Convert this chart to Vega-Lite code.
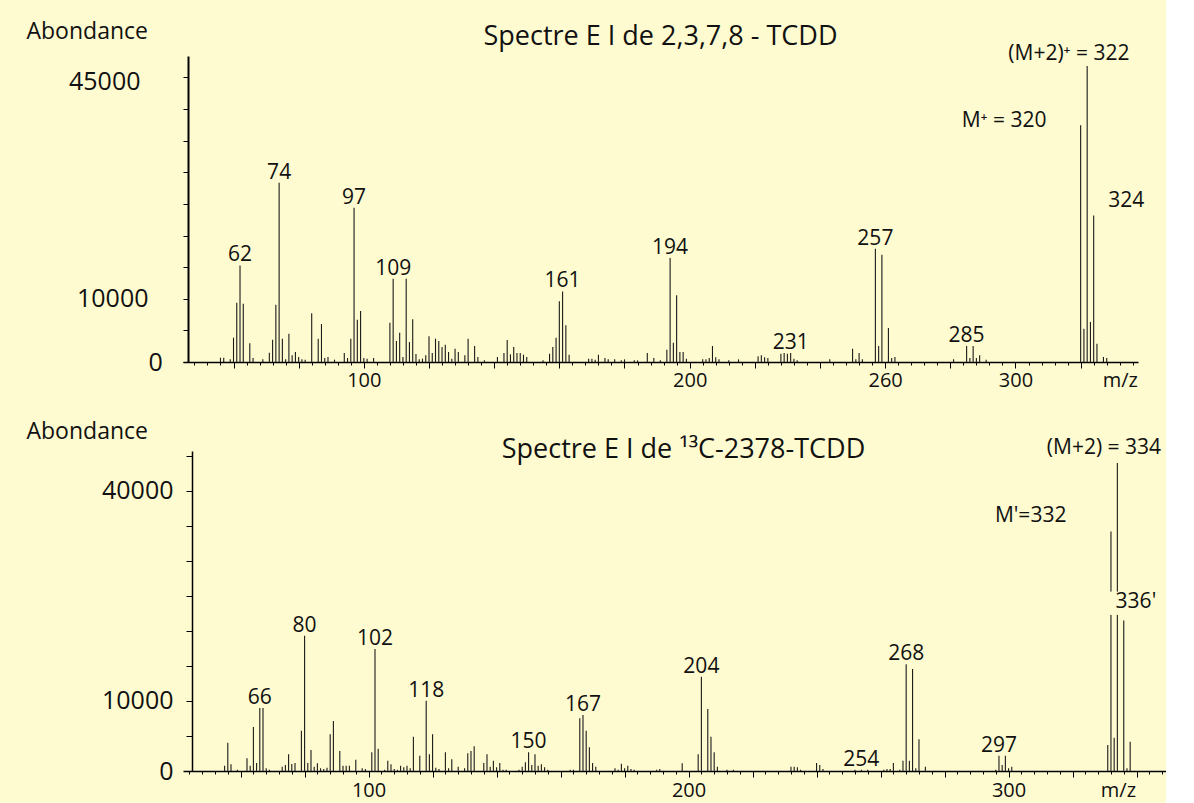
{
  "$schema": "https://vega.github.io/schema/vega-lite/v6.json",
  "background": "#FFFBD0",
  "padding": {"left": 26, "top": 20, "right": 0, "bottom": 6},
  "spacing": 30,
  "config": {
    "font": "Open Sans",
    "view": {"stroke": null},
    "axis": {"domainColor": "#000", "tickColor": "#000", "labelColor": "#111", "titleColor": "#111", "labelFont": "Open Sans", "titleFont": "Open Sans", "grid": false},
    "title": {"font": "Open Sans", "color": "#111"},
    "text": {"font": "Open Sans", "color": "#111"}
  },
  "datasets": {
    "top": [
      {"mz":56,"ab":685},{"mz":57,"ab":685},{"mz":59,"ab":420},{"mz":60,"ab":3850},{"mz":61,"ab":9380},{"mz":62,"ab":15280,"label":"62"},{"mz":63,"ab":9220},{"mz":65,"ab":2950},{"mz":66,"ab":630},{"mz":69,"ab":420},
      {"mz":71,"ab":1475},{"mz":72,"ab":3530},{"mz":73,"ab":9060},{"mz":74,"ab":28350,"label":"74"},{"mz":75,"ab":3690},{"mz":76,"ab":420},{"mz":77,"ab":4480},{"mz":78,"ab":1050},{"mz":79,"ab":1580},{"mz":80,"ab":790},
      {"mz":81,"ab":420},{"mz":82,"ab":370},{"mz":84,"ab":7700},{"mz":86,"ab":3690},{"mz":87,"ab":6000},{"mz":88,"ab":630},{"mz":89,"ab":790},{"mz":91,"ab":370},{"mz":94,"ab":1420},{"mz":95,"ab":630},
      {"mz":96,"ab":3690},{"mz":97,"ab":24400,"label":"97"},{"mz":98,"ab":6690},{"mz":99,"ab":8060},{"mz":100,"ab":630},{"mz":101,"ab":530},{"mz":103,"ab":630},{"mz":108,"ab":6220},{"mz":109,"ab":13175,"label":"109"},{"mz":110,"ab":3320},
      {"mz":111,"ab":4640},{"mz":112,"ab":790},{"mz":113,"ab":13175},{"mz":114,"ab":3160},{"mz":115,"ab":6750},{"mz":116,"ab":1260},{"mz":117,"ab":420},{"mz":118,"ab":530},{"mz":119,"ab":1050},{"mz":120,"ab":4060},
      {"mz":121,"ab":1420},{"mz":122,"ab":3690},{"mz":123,"ab":3320},{"mz":124,"ab":2370},{"mz":125,"ab":2740},{"mz":126,"ab":1580},{"mz":127,"ab":530},{"mz":128,"ab":2110},{"mz":129,"ab":1580},{"mz":131,"ab":1050},
      {"mz":132,"ab":3690},{"mz":134,"ab":2530},{"mz":135,"ab":790},{"mz":137,"ab":260},{"mz":141,"ab":790},{"mz":143,"ab":1420},{"mz":144,"ab":3480},{"mz":145,"ab":1210},{"mz":146,"ab":2370},{"mz":147,"ab":1420},
      {"mz":148,"ab":1420},{"mz":149,"ab":1160},{"mz":150,"ab":790},{"mz":155,"ab":260},{"mz":157,"ab":1320},{"mz":158,"ab":2370},{"mz":159,"ab":3850},{"mz":160,"ab":9590},{"mz":161,"ab":11170,"label":"161"},{"mz":162,"ab":5800},
      {"mz":163,"ab":1160},{"mz":169,"ab":530},{"mz":170,"ab":530},{"mz":171,"ab":370},{"mz":172,"ab":1160},{"mz":174,"ab":630},{"mz":175,"ab":420},{"mz":177,"ab":420},{"mz":179,"ab":260},{"mz":180,"ab":420},
      {"mz":183,"ab":260},{"mz":184,"ab":260},{"mz":187,"ab":1420},{"mz":189,"ab":630},{"mz":191,"ab":260},{"mz":193,"ab":1950},{"mz":194,"ab":16440,"label":"194"},{"mz":195,"ab":3060},{"mz":196,"ab":10540},{"mz":197,"ab":1580},
      {"mz":198,"ab":1580},{"mz":199,"ab":530},{"mz":204,"ab":420},{"mz":205,"ab":420},{"mz":206,"ab":630},{"mz":207,"ab":2530},{"mz":208,"ab":740},{"mz":209,"ab":420},{"mz":212,"ab":260},{"mz":215,"ab":420},
      {"mz":221,"ab":900},{"mz":222,"ab":1050},{"mz":223,"ab":740},{"mz":224,"ab":630},{"mz":228,"ab":1320},{"mz":229,"ab":1420},{"mz":230,"ab":1320},{"mz":231,"ab":1420,"label":"231"},{"mz":232,"ab":530},{"mz":233,"ab":260},
      {"mz":243,"ab":420},{"mz":250,"ab":2110},{"mz":251,"ab":420},{"mz":252,"ab":1420},{"mz":253,"ab":420},{"mz":257,"ab":17920,"label":"257"},{"mz":258,"ab":2530},{"mz":259,"ab":16970},{"mz":261,"ab":5380},{"mz":262,"ab":630},
      {"mz":263,"ab":790},{"mz":281,"ab":420},{"mz":285,"ab":2530,"label":"285"},{"mz":286,"ab":630},{"mz":287,"ab":2530},{"mz":288,"ab":630},{"mz":289,"ab":1050},{"mz":291,"ab":370},
      {"mz":320,"ab":37440},{"mz":321,"ab":5270},{"mz":322,"ab":46800},{"mz":323,"ab":6320},{"mz":324,"ab":23190},{"mz":325,"ab":2900},{"mz":327,"ab":790},{"mz":328,"ab":630}
    ],
    "bot": [
      {"mz":55,"ab":760},{"mz":56,"ab":4050},{"mz":57,"ab":950},{"mz":59,"ab":190},{"mz":62,"ab":1810},{"mz":63,"ab":760},{"mz":64,"ab":6280},{"mz":65,"ab":1140},{"mz":66,"ab":9000,"label":"66"},{"mz":67,"ab":9000},
      {"mz":68,"ab":380},{"mz":69,"ab":190},{"mz":73,"ab":620},{"mz":74,"ab":860},{"mz":75,"ab":2380},{"mz":76,"ab":1000},{"mz":77,"ab":1140},{"mz":79,"ab":5760},{"mz":80,"ab":19330,"label":"80"},{"mz":81,"ab":1140},
      {"mz":82,"ab":3000},{"mz":83,"ab":620},{"mz":84,"ab":1100},{"mz":85,"ab":380},{"mz":86,"ab":290},{"mz":87,"ab":480},{"mz":88,"ab":5240},{"mz":89,"ab":7140},{"mz":91,"ab":2860},{"mz":92,"ab":760},
      {"mz":93,"ab":760},{"mz":94,"ab":760},{"mz":96,"ab":1620},{"mz":98,"ab":380},{"mz":99,"ab":290},{"mz":101,"ab":2670},{"mz":102,"ab":17420,"label":"102"},{"mz":103,"ab":3190},{"mz":105,"ab":190},{"mz":106,"ab":1480},
      {"mz":107,"ab":950},{"mz":108,"ab":290},{"mz":109,"ab":190},{"mz":110,"ab":760},{"mz":111,"ab":520},{"mz":112,"ab":760},{"mz":113,"ab":380},{"mz":114,"ab":4900},{"mz":116,"ab":2190},{"mz":118,"ab":10040,"label":"118"},
      {"mz":119,"ab":2380},{"mz":120,"ab":5240},{"mz":121,"ab":480},{"mz":122,"ab":290},{"mz":124,"ab":2670},{"mz":125,"ab":380},{"mz":126,"ab":1670},{"mz":128,"ab":620},{"mz":130,"ab":380},{"mz":131,"ab":2520},
      {"mz":132,"ab":2860},{"mz":133,"ab":3520},{"mz":136,"ab":1140},{"mz":137,"ab":2380},{"mz":138,"ab":620},{"mz":139,"ab":1480},{"mz":140,"ab":520},{"mz":141,"ab":1140},{"mz":142,"ab":190},{"mz":143,"ab":190},
      {"mz":147,"ab":190},{"mz":148,"ab":620},{"mz":149,"ab":1240},{"mz":150,"ab":2670,"label":"150"},{"mz":151,"ab":860},{"mz":152,"ab":2380},{"mz":153,"ab":760},{"mz":154,"ab":950},{"mz":155,"ab":520},{"mz":156,"ab":190},
      {"mz":163,"ab":190},{"mz":164,"ab":190},{"mz":166,"ab":7520},{"mz":167,"ab":8000,"label":"167"},{"mz":168,"ab":5760},{"mz":169,"ab":3380},{"mz":170,"ab":1140},{"mz":171,"ab":620},{"mz":177,"ab":380},{"mz":178,"ab":190},
      {"mz":179,"ab":1050},{"mz":180,"ab":380},{"mz":181,"ab":760},{"mz":182,"ab":290},{"mz":183,"ab":190},{"mz":190,"ab":190},{"mz":191,"ab":290},{"mz":198,"ab":1100},{"mz":203,"ab":2380},{"mz":204,"ab":13470,"label":"204"},
      {"mz":206,"ab":8850},{"mz":207,"ab":4900},{"mz":208,"ab":2670},{"mz":209,"ab":620},{"mz":212,"ab":190},{"mz":214,"ab":190},{"mz":232,"ab":620},{"mz":233,"ab":620},{"mz":234,"ab":520},{"mz":235,"ab":190},
      {"mz":240,"ab":1140},{"mz":241,"ab":860},{"mz":242,"ab":290},{"mz":252,"ab":190},{"mz":254,"ab":190,"label":"254"},{"mz":256,"ab":190},{"mz":261,"ab":190},{"mz":262,"ab":290},{"mz":263,"ab":290},{"mz":264,"ab":1140},
      {"mz":266,"ab":190},{"mz":267,"ab":1480},{"mz":268,"ab":15230,"label":"268"},{"mz":269,"ab":1480},{"mz":270,"ab":14570},{"mz":271,"ab":380},{"mz":272,"ab":4520},{"mz":274,"ab":620},
      {"mz":296,"ab":190},{"mz":297,"ab":2190,"label":"297"},{"mz":298,"ab":860},{"mz":299,"ab":2190},{"mz":300,"ab":380},{"mz":301,"ab":620},
      {"mz":331,"ab":3710},{"mz":332,"ab":34200},{"mz":333,"ab":4760},{"mz":334,"ab":43970},{"mz":336,"ab":21480},{"mz":337,"ab":380},{"mz":338,"ab":4190}
    ]
  },
  "vconcat": [
    {
      "width": 955,
      "height": 306,
      "title": {"text": "Spectre E I de 2,3,7,8 - TCDD", "fontSize": 27, "fontWeight": "normal", "anchor": "middle", "offset": 0, "dy": 31},
      "encoding": {
        "x": {"field": "mz", "type": "quantitative",
          "scale": {"domain": [44.5, 337.6], "nice": false, "zero": false},
          "axis": {"title": null, "values": [48,52,56,60,64,68,72,76,80,84,88,92,96,100,104,108,112,116,120,124,128,132,136,140,144,148,152,156,160,164,168,172,176,180,184,188,192,196,200,204,208,212,216,220,224,228,232,236,240,244,248,252,256,260,264,268,272,276,280,284,288,292,296,300,304,308,312,316,320,324,328,332,336],
            "labelExpr": "datum.value == 100 || datum.value == 200 || datum.value == 260 || datum.value == 300 ? datum.label : (datum.value == 332 ? 'm/z' : '')",
            "tickSize": {"condition": {"test": "datum.value % 20 === 0", "value": 6}, "value": 3},
            "labelPadding": {"condition": {"test": "datum.value === 332", "value": 5}, "value": 2},
            "labelFontSize": 20, "labelOverlap": false, "labelFlush": false, "labelBound": false, "domainWidth": 1.5}},
        "y": {"field": "ab", "type": "quantitative",
          "scale": {"domain": [0, 48400], "nice": false},
          "axis": {"title": "Abondance", "titleAngle": 0, "titleX": -162, "titleY": -25, "titleAlign": "left", "titleBaseline": "middle", "titleFontSize": 23, "titleFontWeight": "normal",
            "values": [0,5000,10000,15000,20000,25000,30000,35000,40000,45000], "format": "d",
            "labelExpr": "datum.value == 0 || datum.value == 10000 || datum.value == 45000 ? datum.label : ''",
            "tickSize": 5,
            "labelPadding": {"condition": {"test": "datum.value > 44000", "value": 43}, "value": 35},
            "labelAlign": {"condition": {"test": "datum.value < 1", "value": "left"}, "value": "right"},
            "labelOffset": {"condition": {"test": "datum.value > 44000", "value": 4}, "value": 0},
            "labelFontSize": 25, "offset": -5, "domainWidth": 2, "labelOverlap": false, "labelFlush": false}}
      },
      "layer": [
        {"data": {"name": "top"}, "mark": {"type": "rule", "color": "#1a1a1a", "strokeWidth": 1.1}, "encoding": {"y2": {"datum": 0}}},
        {"data": {"name": "top"}, "transform": [{"filter": "datum.label"}], "mark": {"type": "text", "baseline": "alphabetic", "dy": -4, "fontSize": 21}, "encoding": {"text": {"field": "label"}}},
        {"data": {"values": [
          {"mz": 316.4, "ab": 48660, "t": "(M+2)⁺ = 322"},
          {"mz": 296.5, "ab": 38080, "t": "M⁺ = 320"},
          {"mz": 334, "ab": 25440, "t": "324"}
        ]}, "mark": {"type": "text", "baseline": "middle", "fontSize": 21}, "encoding": {"text": {"field": "t"}}}
      ]
    },
    {
      "width": 983,
      "height": 320,
      "title": {"text": "Spectre E I de ¹³C-2378-TCDD", "fontSize": 27, "fontWeight": "normal", "anchor": "middle", "offset": 0, "dy": 44, "dx": 9},
      "encoding": {
        "x": {"field": "mz", "type": "quantitative",
          "scale": {"domain": [42, 349.2], "nice": false, "zero": false},
          "axis": {"title": null, "values": [44,48,52,56,60,64,68,72,76,80,84,88,92,96,100,104,108,112,116,120,124,128,132,136,140,144,148,152,156,160,164,168,172,176,180,184,188,192,196,200,204,208,212,216,220,224,228,232,236,240,244,248,252,256,260,264,268,272,276,280,284,288,292,296,300,304,308,312,316,320,324,328,332,336,340,344,348],
            "labelExpr": "datum.value == 100 || datum.value == 200 || datum.value == 300 ? datum.label : (datum.value == 332 ? 'm/z' : '')",
            "tickSize": {"condition": {"test": "datum.value % 20 === 0", "value": 6}, "value": 3},
            "labelPadding": {"condition": {"test": "datum.value === 332", "value": 6}, "value": 3},
            "labelOffset": {"condition": {"test": "datum.value === 332", "value": 7}, "value": 0},
            "labelFontSize": 20, "labelOverlap": false, "labelFlush": false, "labelBound": false, "domainWidth": 1.5}},
        "y": {"field": "ab", "type": "quantitative",
          "scale": {"domain": [0, 45700], "nice": false},
          "axis": {"title": "Abondance", "titleAngle": 0, "titleX": -166, "titleY": -20, "titleAlign": "left", "titleBaseline": "middle", "titleFontSize": 23, "titleFontWeight": "normal",
            "values": [0,5000,10000,15000,20000,25000,30000,35000,40000,45000], "format": "d",
            "labelExpr": "datum.value == 0 || datum.value == 10000 || datum.value == 40000 ? datum.label : ''",
            "tickSize": 6, "labelPadding": 13, "labelFontSize": 25, "offset": -9, "domainWidth": 1.5, "labelOverlap": false, "labelFlush": false}}
      },
      "layer": [
        {"data": {"name": "bot"}, "mark": {"type": "rule", "color": "#1a1a1a", "strokeWidth": 1.1}, "encoding": {"y2": {"datum": 0}}},
        {"data": {"values": [{"mz": 331.6, "mz2": 334.4, "ab": 22290, "ab2": 25620}]}, "mark": {"type": "rect", "color": "#FFFBD0"}, "encoding": {"x2": {"field": "mz2"}, "y2": {"field": "ab2"}}},
        {"data": {"name": "bot"}, "transform": [{"filter": "datum.label"}], "mark": {"type": "text", "baseline": "alphabetic", "dy": -4, "fontSize": 21}, "encoding": {"text": {"field": "label"}}},
        {"data": {"values": [
          {"mz": 329.8, "ab": 46160, "t": "(M+2)  = 334"},
          {"mz": 306.9, "ab": 36440, "t": "M'=332"},
          {"mz": 339.8, "ab": 24150, "t": "336'"}
        ]}, "mark": {"type": "text", "baseline": "middle", "fontSize": 21}, "encoding": {"text": {"field": "t"}}}
      ]
    }
  ]
}
